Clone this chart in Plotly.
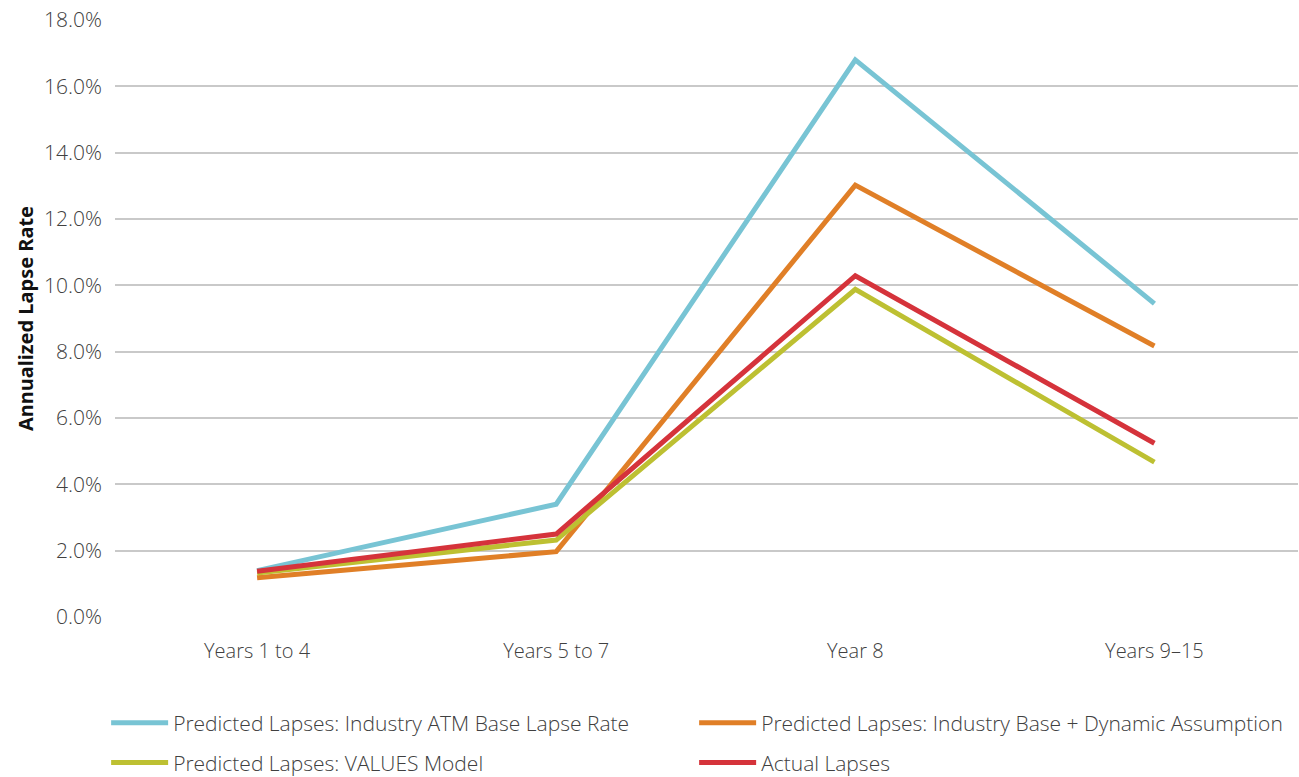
import plotly.graph_objects as go

categories = ["Years 1 to 4", "Years 5 to 7", "Year 8", "Years 9–15"]
industry_atm = [1.40, 3.40, 16.80, 9.45]
industry_dynamic = [1.18, 1.97, 13.02, 8.17]
values_model = [1.33, 2.32, 9.88, 4.67]
actual = [1.38, 2.50, 10.29, 5.24]

series_names = [
    "Predicted Lapses: Industry ATM Base Lapse Rate",
    "Predicted Lapses: Industry Base + Dynamic Assumption",
    "Predicted Lapses: VALUES Model",
    "Actual Lapses",
]
series_values = [industry_atm, industry_dynamic, values_model, actual]
colors = ["#78C4D4", "#E07F27", "#BDC032", "#D5333B"]
legend_ids = ["legend", "legend", "legend2", "legend2"]

fig = go.Figure()
for name, vals, col, lg in zip(series_names, series_values, colors, legend_ids):
    fig.add_trace(go.Scatter(
        x=list(range(len(categories))), y=vals, name=name, mode="lines",
        line=dict(color=col, width=5, shape="linear"), legend=lg,
    ))

FONT = "Open Sans, Noto Sans, sans-serif"
leg_common = dict(
    orientation="h", xanchor="left", yanchor="middle",
    entrywidth=516, entrywidthmode="pixels", itemwidth=57,
    font=dict(family=FONT, size=21, color="#404040", weight=300),
    bgcolor="rgba(0,0,0,0)",
)
fig.update_layout(
    width=1299, height=777,
    margin=dict(l=115, r=1, t=20, b=160, autoexpand=False),
    plot_bgcolor="white", paper_bgcolor="white",
    font=dict(family=FONT, size=20, color="#404040", weight=300),
    showlegend=True,
    legend=dict(x=-0.0075, y=-0.1776, **leg_common),
    legend2=dict(x=-0.0075, y=-0.2445, **leg_common),
    xaxis=dict(
        tickmode="array", tickvals=list(range(len(categories))), ticktext=categories,
        range=[-0.475, 3.48], showgrid=False, zeroline=False, showline=False,
        ticks="", ticklabelstandoff=20,
        tickfont=dict(family=FONT, size=20, color="#404040", weight=300),
    ),
    yaxis=dict(
        range=[0, 18], tickvals=[0, 2, 4, 6, 8, 10, 12, 14, 16, 18],
        ticktext=[f"{v:.1f}%" for v in [0, 2, 4, 6, 8, 10, 12, 14, 16, 18]],
        showgrid=True, gridcolor="#c9c9c9", gridwidth=1.5, zeroline=False,
        showline=False, ticks="", ticklabelstandoff=12,
        tickfont=dict(family=FONT, size=21, color="#404040", weight=300),
        title=dict(text="<b>Annualized Lapse Rate</b>", standoff=5,
                   font=dict(family="Noto Sans, sans-serif", size=20, color="#111111")),
    ),
)

fig.write_html("out.html")
